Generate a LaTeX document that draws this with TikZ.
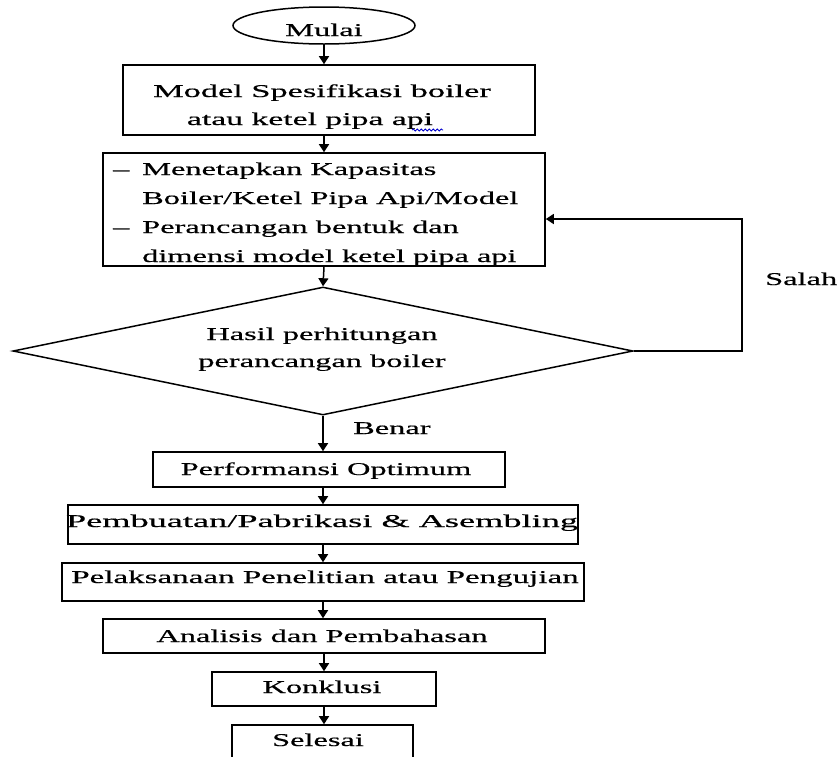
\documentclass[tikz,border=0pt]{standalone}
\usepackage{fontspec}
\setmainfont{Liberation Serif}[FakeStretch=1.8,FakeBold=0.5]
\usetikzlibrary{arrows.meta,shapes.geometric,decorations.pathmorphing}
\begin{document}
\begin{tikzpicture}[x=1pt,y=-1pt,
  every node/.style={font=\fontsize{18}{22}\selectfont, inner sep=0pt},
  boxsh/.style={draw, line width=1.6pt, rectangle, inner sep=0pt},
  txt/.style={anchor=base},
  txtw/.style={anchor=base west},
  arr/.style={draw, line width=1.5pt, -{Triangle[width=10pt,length=8pt]}}]
\useasboundingbox (0,0) rectangle (837,756);
\clip (0,0) rectangle (837,756);

% shapes
\node[draw, line width=1.5pt, ellipse, minimum width=182pt, minimum height=37pt] (mulai) at (324,25.5) {};
\node[boxsh, minimum width=412pt, minimum height=70pt] (spec) at (329,100) {};
\node[boxsh, minimum width=442pt, minimum height=113pt] (tasks) at (324,209.5) {};
\node[draw, line width=1.5pt, diamond, aspect=4.84, minimum width=620pt, minimum height=128pt] (dec) at (323,351) {};
\node[boxsh, minimum width=352pt, minimum height=35pt] (perf) at (329,469.5) {};
\node[boxsh, minimum width=510pt, minimum height=39pt] (buat) at (323,524.5) {};
\node[boxsh, minimum width=522pt, minimum height=38pt] (laks) at (323,582) {};
\node[boxsh, minimum width=442pt, minimum height=34pt] (anal) at (324,636) {};
\node[boxsh, minimum width=224pt, minimum height=34pt] (konk) at (324,689) {};
\node[boxsh, minimum width=181pt, minimum height=65pt] (seles) at (322.5,757.5) {};

% texts
\node[txt] (mulaiT) at (324,36) {Mulai};
\node[txt] (spec1) at (322,97) {\scalebox{1.06}[1]{Model Spesifikasi boiler}};
\node[txt] (spec2) at (310,125) {\scalebox{1.04}[1]{atau ketel pipa api}};
\draw[blue!80!black, line width=0.8pt, decorate, decoration={snake, amplitude=1pt, segment length=4pt}] (412,130) -- (443,130);

\begin{scope}
\clip (tasks.north west) rectangle (tasks.south east);
\node[txtw] (dash1) at (113,175) {–};
\node[txtw] (dash2) at (113,233) {–};
\node[txtw] (t1) at (142,175) {Menetapkan Kapasitas};
\node[txtw] (t2) at (142,204) {Boiler/Ketel Pipa Api/Model};
\node[txtw] (t3) at (142,233) {Perancangan bentuk dan};
\node[txtw] (t4) at (142,262) {dimensi model ketel pipa api};
\end{scope}

\node[txt] (dec1) at (322,340) {Hasil perhitungan};
\node[txt] (dec2) at (322,367) {perancangan boiler};
\node[txtw] (salah) at (765,285) {Salah};
\node[txtw] (benar) at (353,434) {Benar};

\node[txt] (perfT) at (326,475) {Performansi Optimum};
\node[txt] (buatT) at (322,527) {\scalebox{1.12}[1]{Pembuatan/Pabrikasi \& Asembling}};
\node[txt] (laksT) at (325,583) {\scalebox{1.02}[1]{Pelaksanaan Penelitian atau Pengujian}};
\node[txt] (analT) at (322,642) {Analisis dan Pembahasan};
\node[txt] (konkT) at (322,693) {Konklusi};
\node[txt] (selesT) at (318,746) {Selesai};

% connectors
\coordinate (fb) at (742,219);
\draw[arr] (mulai.south) -- (mulai.south |- spec.north);
\draw[arr] (tasks.north |- spec.south) -- (tasks.north);
\draw[arr] (tasks.south) -- (dec.north);
\draw[arr] (dec.east) -| (fb) -- (tasks.east |- fb);
\draw[arr] (dec.south) -- (dec.south |- perf.north);
\draw[arr] (buat.north |- perf.south) -- (buat.north);
\draw[arr] (buat.south) -- (laks.north);
\draw[arr] (laks.south) -- (laks.south |- anal.north);
\draw[arr] (anal.south) -- (konk.south |- konk.north);
\draw[arr] (konk.south) -- (konk.south |- seles.north);
\end{tikzpicture}
\end{document}
